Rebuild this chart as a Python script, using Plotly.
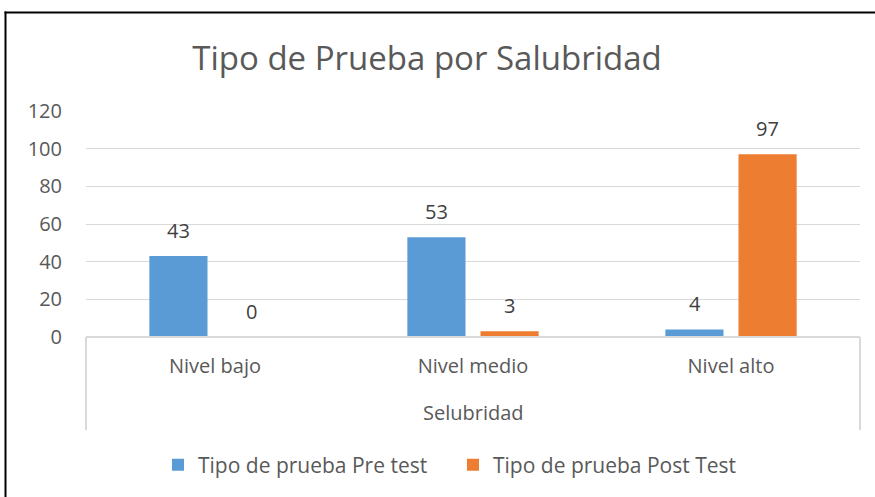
import plotly.graph_objects as go

categories = ["Nivel bajo", "Nivel medio", "Nivel alto"]
pre_test = [43, 53, 4]
post_test = [0, 3, 97]
series_names = ["Tipo de prueba Pre test", "Tipo de prueba Post Test"]
title_text = "Tipo de Prueba por Salubridad"
x_title = "Selubridad"
y_ticks = [0, 20, 40, 60, 80, 100, 120]

FONT = "Open Sans"
GRAY = "#595959"
GRID = "#d9d9d9"
W, H = 875, 497
# plot-area edges in page pixels
PL, PR, PT, PB = 86, 860, 111, 337
L, R, T, B = PL, W - PR, PT, H - PB
PW, PH = W - L - R, H - T - B

def px_to_paper_x(px):
    return (px - L) / PW

def px_to_paper_y(py):
    return (H - B - py) / PH

fig = go.Figure()
fig.add_trace(go.Bar(x=categories, y=pre_test, name=series_names[0],
                     marker_color="#5b9bd5", marker_line_width=0))
fig.add_trace(go.Bar(x=categories, y=post_test, name=series_names[1],
                     marker_color="#ed7d31", marker_line_width=0))

# data labels
for vals, shift in ((pre_test, -36.5), (post_test, 36.5)):
    for c, v in zip(categories, vals):
        fig.add_annotation(x=c, y=v, xref="x", yref="y", text=str(v),
                           showarrow=False, xshift=shift, yshift=10,
                           yanchor="bottom", font=dict(family=FONT, size=20, color="#404040"))

# x-axis title
fig.add_annotation(x=0.5, y=px_to_paper_y(412), xref="paper", yref="paper",
                   text=x_title, showarrow=False, yanchor="middle",
                   font=dict(family=FONT, size=20, color=GRAY))

shapes = [
    dict(type="line", xref="paper", yref="paper", x0=0, x1=0, y0=0, y1=px_to_paper_y(430),
         line=dict(color=GRID, width=2)),
    dict(type="line", xref="paper", yref="paper", x0=1, x1=1, y0=0, y1=px_to_paper_y(430),
         line=dict(color=GRID, width=2)),
    dict(type="line", xref="paper", yref="paper", x0=0, x1=1, y0=0, y1=0,
         line=dict(color=GRID, width=2)),
    dict(type="line", xref="paper", yref="paper", x0=px_to_paper_x(5.5), x1=px_to_paper_x(5.5),
         y0=px_to_paper_y(11.5), y1=px_to_paper_y(510), line=dict(color="black", width=2)),
    dict(type="line", xref="paper", yref="paper", x0=px_to_paper_x(4.5), x1=px_to_paper_x(880),
         y0=px_to_paper_y(12.5), y1=px_to_paper_y(12.5), line=dict(color="black", width=2)),
]

fig.update_layout(
    width=W, height=H,
    margin=dict(l=L, r=R, t=T, b=B, autoexpand=False),
    paper_bgcolor="white", plot_bgcolor="white",
    barmode="group", bargap=0.433, bargroupgap=0.205,
    title=dict(text=title_text, x=427 / W, xanchor="center",
               y=1 - 58 / H, yanchor="middle",
               font=dict(family=FONT, size=33, color=GRAY)),
    font=dict(family=FONT, color=GRAY),
    showlegend=True,
    legend=dict(orientation="h", x=px_to_paper_x(453), xanchor="center", y=px_to_paper_y(465),
                yanchor="middle", font=dict(family=FONT, size=21, color=GRAY),
                entrywidth=250, entrywidthmode="pixels", traceorder="normal"),
    shapes=shapes,
)
fig.update_xaxes(showgrid=False, showline=False, ticks="", tickfont=dict(family=FONT, size=20, color=GRAY),
                 ticklabelstandoff=15)
fig.update_yaxes(range=[0, 120], tickvals=y_ticks, showgrid=True, gridcolor=GRID, gridwidth=1,
                 zeroline=False, showline=False, ticks="", ticklabelstandoff=23,
                 tickfont=dict(family=FONT, size=20, color=GRAY))

fig.write_html("out.html", config={"displayModeBar": False},
               post_script="document.body.style.margin='0';document.body.style.overflow='hidden';")
